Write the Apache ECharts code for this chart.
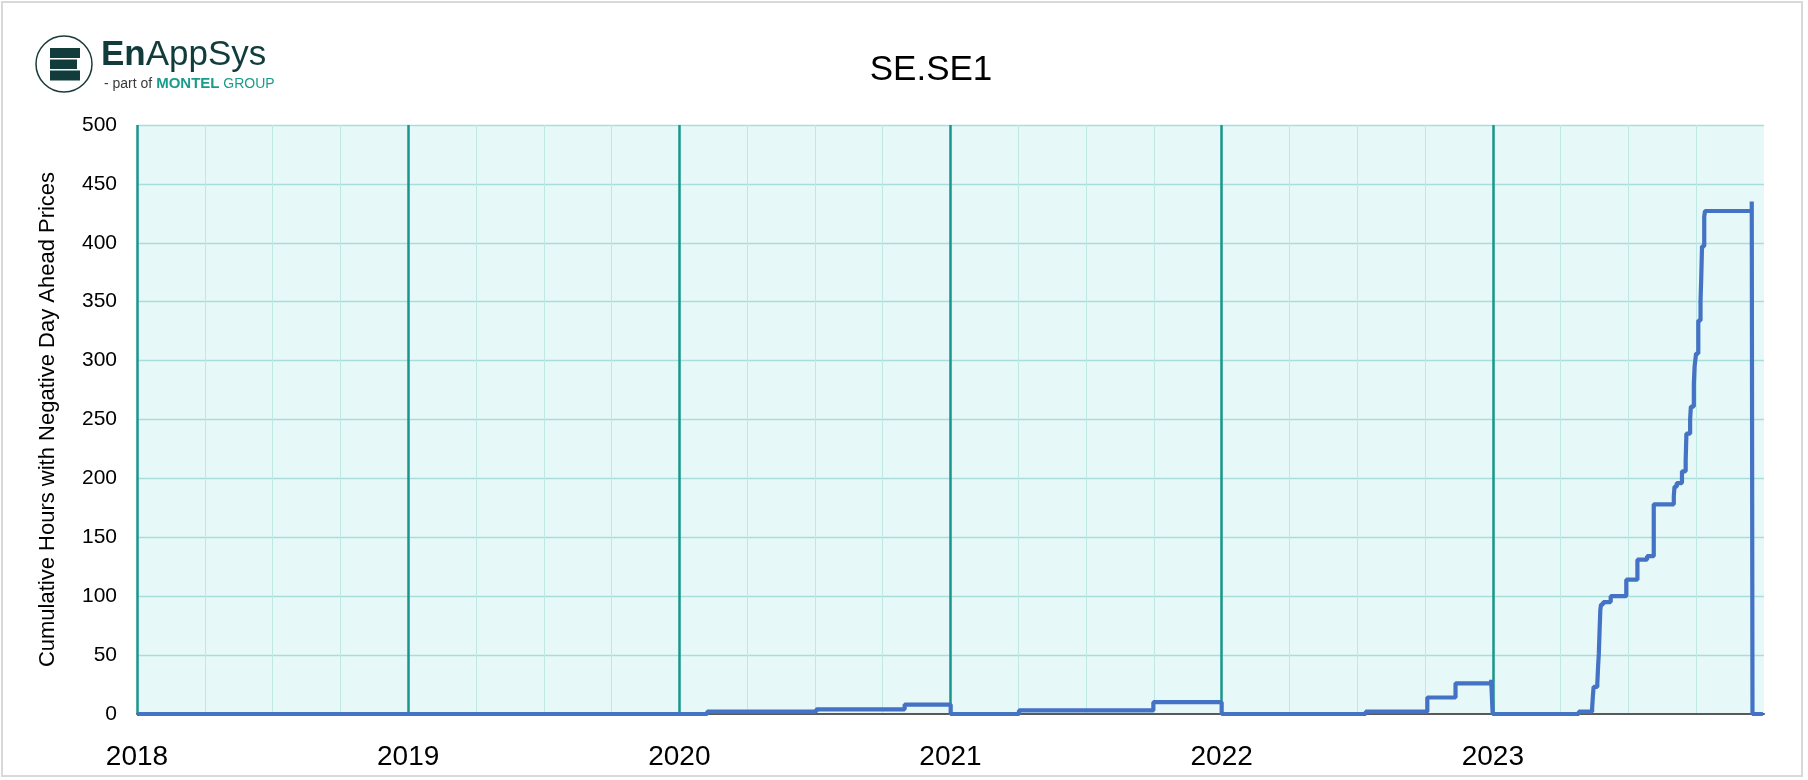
<!DOCTYPE html>
<html><head><meta charset="utf-8">
<script src="https://cdn.jsdelivr.net/npm/echarts@6/dist/echarts.min.js"></script>
<style>html,body{margin:0;padding:0;background:#fff}#c{width:1808px;height:780px}</style>
</head><body><div id="c"></div>
<script>
// ---- data ----
const chartTitle = 'SE.SE1';
const yAxisName = 'Cumulative Hours with Negative Day Ahead Prices';
const yMin = 0, yMax = 500, yStep = 50;
const yearLabels = ['2018', '2019', '2020', '2021', '2022', '2023'];
const stepDates = [
  '2018-01-01',
  '2020-02-08', '2020-07-04', '2020-10-31', '2021-01-01',
  '2021-04-03', '2021-10-01', '2022-01-01',
  '2022-07-14', '2022-10-05', '2022-11-12', '2022-12-30', '2023-01-01',
  '2023-04-27', '2023-05-15', '2023-05-16', '2023-05-17', '2023-05-22', '2023-05-23',
  '2023-05-24', '2023-05-25', '2023-05-26', '2023-05-27', '2023-05-30', '2023-06-09',
  '2023-06-30', '2023-07-15', '2023-07-28', '2023-08-06', '2023-09-02', '2023-09-03',
  '2023-09-06', '2023-09-13', '2023-09-18', '2023-09-19', '2023-09-24', '2023-09-25',
  '2023-09-29', '2023-09-30', '2023-10-02', '2023-10-05', '2023-10-08', '2023-10-09',
  '2023-10-10', '2023-10-13', '2023-10-14', '2023-12-16', '2023-12-17', '2023-12-31'
];
const stepValues = [
  0,
  2, 4, 8, 0,
  3, 10, 0,
  2, 14, 26, 29, 0,
  2, 5, 15, 23, 26, 40,
  51, 70, 88, 93, 95, 100,
  114, 131, 134, 178, 185, 193,
  196, 206, 215, 238, 250, 261,
  280, 295, 306, 334, 350, 371,
  397, 422, 427, 435, 0, 0
];

// ---- helpers ----
const DAY = 86400000;
const YEAR_MS = 365.25 * DAY;
const Q_MS = YEAR_MS / 4;
const X_MIN = Date.UTC(2018, 0, 1);
const X_MAX = X_MIN + yearLabels.length * YEAR_MS;
function toMs(s) { const p = s.split('-').map(Number); return Date.UTC(p[0], p[1] - 1, p[2]); }
const seriesData = stepDates.map((d, i) => [toMs(d), stepValues[i]]);

const FONT = 'Liberation Sans';
const chart = echarts.init(document.getElementById('c'), null, { renderer: 'canvas' });
chart.setOption({
  animation: false,
  backgroundColor: '#ffffff',
  title: {
    text: chartTitle, left: 926, top: 48, textAlign: 'center',
    textStyle: { fontFamily: FONT, fontSize: 35, fontWeight: 'normal', color: '#000' }
  },
  grid: { left: 137, right: 44, top: 125, bottom: 66, show: true, backgroundColor: '#e7f8f8', borderWidth: 0 },
  xAxis: [
    {
      type: 'value', position: 'bottom', min: X_MIN, max: X_MAX, interval: Q_MS,
      axisLine: { show: false }, axisTick: { show: false }, axisLabel: { show: false },
      splitLine: { show: true, showMaxLine: false, lineStyle: { color: '#bfe7e3', width: 1 } }
    },
    {
      type: 'value', position: 'bottom', min: X_MIN, max: X_MAX, interval: YEAR_MS,
      axisLine: { show: true, onZero: false, lineStyle: { color: '#595959', width: 2 } },
      axisTick: { show: false },
      axisLabel: {
        showMaxLabel: false, margin: 29, fontFamily: FONT, fontSize: 28, color: '#000',
        formatter: v => yearLabels[Math.round((v - X_MIN) / YEAR_MS)] || ''
      },
      splitLine: { show: true, showMaxLine: false, lineStyle: { color: '#17968d', width: 2.5 } }
    }
  ],
  yAxis: {
    type: 'value', min: yMin, max: yMax, interval: yStep,
    name: yAxisName, nameLocation: 'middle', nameGap: 78,
    nameTextStyle: { fontFamily: FONT, fontSize: 22, color: '#000' },
    axisLine: { show: false }, axisTick: { show: false },
    axisLabel: { margin: 20, fontFamily: FONT, fontSize: 21, color: '#000' },
    splitLine: { show: true, showMinLine: false, lineStyle: { color: '#a9ddd9', width: 1.3 } }
  },
  series: [{
    type: 'line', xAxisIndex: 1, step: 'end', symbol: 'none',
    lineStyle: { color: '#4472c4', width: 4.2 },
    data: seriesData, z: 5
  }],
  graphic: [
    { type: 'rect', silent: true, shape: { x: 2, y: 2, width: 1800, height: 774 },
      style: { fill: 'none', stroke: '#d9d9d9', lineWidth: 2 } },
    { type: 'circle', shape: { cx: 64, cy: 64, r: 28 }, style: { fill: '#fff', stroke: '#1b3a3a', lineWidth: 1.5 } },
    { type: 'rect', shape: { x: 50, y: 48, width: 30, height: 10 }, style: { fill: '#123c3c' } },
    { type: 'rect', shape: { x: 50, y: 59.5, width: 27, height: 9.5 }, style: { fill: '#123c3c' } },
    { type: 'rect', shape: { x: 50, y: 70.5, width: 30, height: 10 }, style: { fill: '#123c3c' } },
    { type: 'text', x: 101, y: 55, style: {
        text: '{a|En}{b|AppSys}', textVerticalAlign: 'middle',
        rich: {
          a: { fontFamily: FONT, fontSize: 35, fontWeight: 'bold', fill: '#123c3c' },
          b: { fontFamily: FONT, fontSize: 35, fill: '#123c3c' }
        } } },
    { type: 'text', x: 104, y: 84, style: {
        text: '{a|- part of }{b|MONTEL}{c| GROUP}', textVerticalAlign: 'middle',
        rich: {
          a: { fontFamily: FONT, fontSize: 14, fill: '#3a3a3a' },
          b: { fontFamily: FONT, fontSize: 15, fontWeight: 'bold', fill: '#1a9c8c' },
          c: { fontFamily: FONT, fontSize: 14, fill: '#1a9c8c' }
        } } }
  ]
});
</script></body></html>
